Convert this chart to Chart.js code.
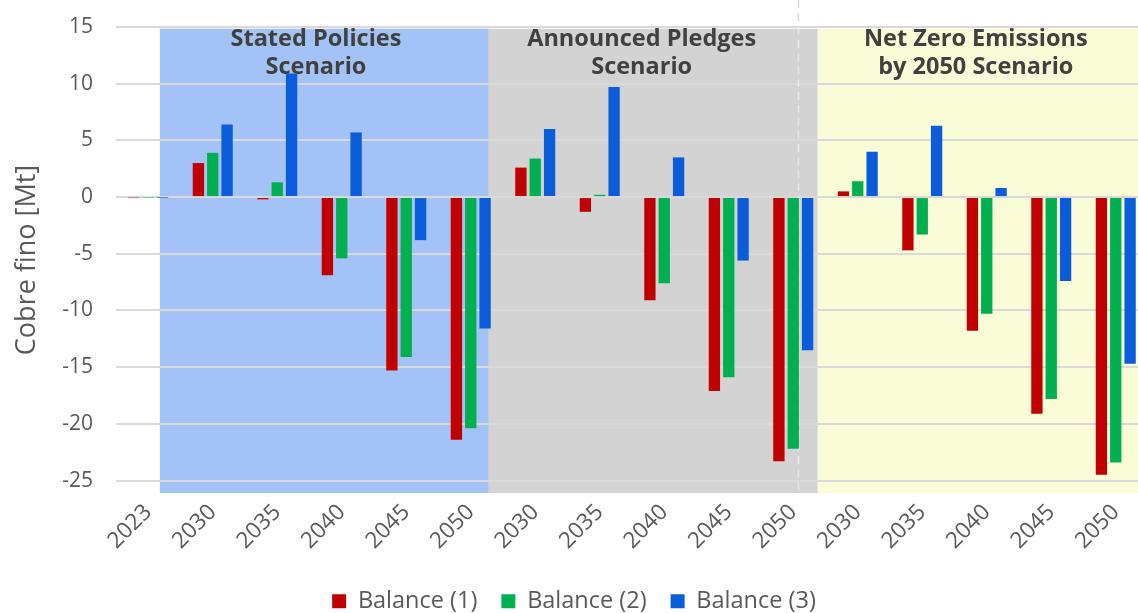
<!DOCTYPE html>
<html>
<head>
<meta charset="utf-8">
<script src="https://cdn.jsdelivr.net/npm/chart.js@4.4.0/dist/chart.umd.min.js"></script>
<style>
  html, body { margin: 0; padding: 0; background: #fff; overflow: hidden; }
  #wrap { position: relative; width: 1150px; height: 623px; }
</style>
</head>
<body>
<div id="wrap"><canvas id="myChart" width="1150" height="623"></canvas></div>
<script>
// categories: 2023 then the three IEA scenarios
var categories = ['2023', '2030', '2035', '2040', '2045', '2050',
                  '2030', '2035', '2040', '2045', '2050',
                  '2030', '2035', '2040', '2045', '2050'];
var balance1 = [-0.05, 3.0, -0.2, -6.9, -15.3, -21.4, 2.6, -1.3, -9.1, -17.1, -23.3, 0.5, -4.7, -11.8, -19.1, -24.5];
var balance2 = [-0.05, 3.9, 1.3, -5.4, -14.1, -20.4, 3.4, 0.2, -7.6, -15.9, -22.2, 1.4, -3.3, -10.3, -17.8, -23.4];
var balance3 = [-0.03, 6.4, 10.9, 5.7, -3.8, -11.6, 6.0, 9.7, 3.5, -5.6, -13.5, 4.0, 6.3, 0.8, -7.4, -14.7];
var seriesNames = ['Balance (1)', 'Balance (2)', 'Balance (3)'];
var scenarioTitles = [['Stated Policies', 'Scenario'],
                      ['Announced Pledges', 'Scenario'],
                      ['Net Zero Emissions', 'by 2050 Scenario']];
var yTicks = [15, 10, 5, 0, -5, -10, -15, -20, -25];

Chart.defaults.font.family = "'Open Sans', sans-serif";

// shaded scenario blocks, in category-index units
var bands = [
  { from: 0.18, to: 5.28, color: '#a3c2f5', textAt: 2.60 },
  { from: 5.28, to: 10.38, color: '#d3d3d3', textAt: 7.65 },
  { from: 10.38, to: 15.5, color: '#fafcd8', textAt: 12.83 }
];

var scenarioPlugin = {
  id: 'scenarios',
  beforeDraw: function(chart) {
    var ctx = chart.ctx, area = chart.chartArea;
    var xs = chart.scales.x, ys = chart.scales.y;
    var top = ys.getPixelForValue(14.85);
    ctx.save();
    bands.forEach(function(b) {
      var x1 = xs.getPixelForValue(b.from);
      var x2 = Math.min(xs.getPixelForValue(b.to), area.right);
      ctx.fillStyle = b.color;
      ctx.fillRect(x1, top, x2 - x1, area.bottom - top);
    });
    ctx.restore();
  },
  beforeDatasetsDraw: function(chart) {
    var ctx = chart.ctx, area = chart.chartArea;
    var x = Math.round(chart.scales.x.getPixelForValue(10.07)) + 0.5;
    ctx.save();
    ctx.setLineDash([8, 5]);
    ctx.lineWidth = 1.5;
    ctx.strokeStyle = '#d9d9d9';
    ctx.beginPath(); ctx.moveTo(x, 0); ctx.lineTo(x, area.top); ctx.stroke();
    ctx.strokeStyle = 'rgba(255,255,255,0.45)';
    ctx.beginPath(); ctx.moveTo(x, area.top); ctx.lineTo(x, area.bottom); ctx.stroke();
    ctx.restore();
  },
  afterDatasetsDraw: function(chart) {
    var ctx = chart.ctx, area = chart.chartArea;
    var xs = chart.scales.x;
    ctx.save();
    ctx.fillStyle = '#404040';
    ctx.font = "bold 23.5px 'Open Sans', sans-serif";
    ctx.textAlign = 'center';
    ctx.textBaseline = 'middle';
    bands.forEach(function(b, i) {
      var cx = xs.getPixelForValue(b.textAt);
      ctx.fillText(scenarioTitles[i][0], cx, area.top + 12);
      ctx.fillText(scenarioTitles[i][1], cx, area.top + 40);
    });
    ctx.restore();
  }
};

var ctx = document.getElementById('myChart').getContext('2d');
var myChart = new Chart(ctx, {
  type: 'bar',
  data: {
    labels: categories,
    datasets: [
      { label: seriesNames[0], data: balance1, backgroundColor: '#c00000' },
      { label: seriesNames[1], data: balance2, backgroundColor: '#00b050' },
      { label: seriesNames[2], data: balance3, backgroundColor: '#0b5cdb' }
    ]
  },
  options: {
    responsive: false,
    animation: false,
    categoryPercentage: 0.667,
    barPercentage: 0.79,
    layout: { padding: { top: 27, right: 2, left: 0, bottom: 0 } },
    plugins: {
      tooltip: { enabled: false },
      legend: {
        position: 'bottom',
        labels: {
          boxWidth: 14,
          boxHeight: 14,
          padding: 24,
          color: '#595959',
          font: { size: 23.5 }
        }
      }
    },
    scales: {
      x: {
        grid: { display: false, drawTicks: false },
        border: { display: false },
        ticks: {
          color: '#595959',
          font: { size: 22.5 },
          minRotation: 45,
          maxRotation: 45,
          autoSkip: false,
          padding: 6
        },
        afterFit: function(scale) { scale.height = 72.5; }
      },
      y: {
        min: -26.1,
        max: 15,
        afterBuildTicks: function(axis) {
          axis.ticks = yTicks.map(function(v) { return { value: v }; });
        },
        afterFit: function(scale) { scale.width = 116; },
        grid: { color: '#d9d9d9', lineWidth: 2, drawTicks: true, tickLength: 23, tickColor: 'rgba(0,0,0,0)' },
        border: { display: false },
        ticks: { color: '#595959', font: { size: 21 }, padding: 0 },
        title: {
          display: true,
          text: 'Cobre fino [Mt]',
          color: '#595959',
          font: { size: 27 },
          padding: { top: 11, bottom: 0 }
        }
      }
    }
  },
  plugins: [scenarioPlugin]
});
</script>
</body>
</html>
